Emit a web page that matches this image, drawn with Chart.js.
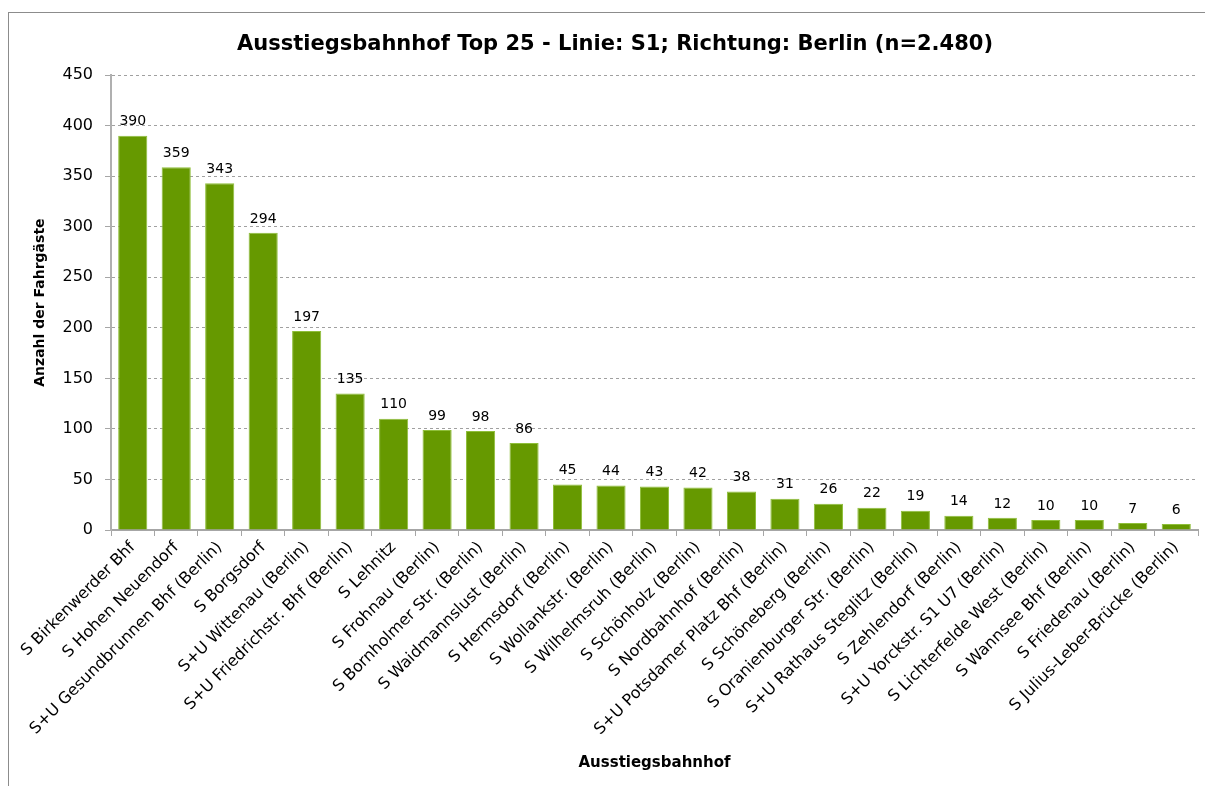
<!DOCTYPE html>
<html>
<head>
<meta charset="utf-8">
<script src="https://cdn.jsdelivr.net/npm/chart.js@4/dist/chart.umd.min.js"></script>
<style>
  html, body { margin: 0; padding: 0; background: #fff; }
  #wrap { position: absolute; left: 0; top: 0; width: 1205px; height: 786px; }
  #frame { position: absolute; left: 8px; top: 12px; width: 1300px; height: 900px;
           border-left: 1px solid #8c8c8c; border-top: 1px solid #8c8c8c; pointer-events: none; }
</style>
</head>
<body>
<div id="wrap"><canvas id="c" width="1205" height="786"></canvas></div>
<div id="frame"></div>
<script>
const FONT = '"DejaVu Sans", sans-serif';

const stations = [
  "S Birkenwerder Bhf", "S Hohen Neuendorf", "S+U Gesundbrunnen Bhf (Berlin)", "S Borgsdorf",
  "S+U Wittenau (Berlin)", "S+U Friedrichstr. Bhf (Berlin)", "S Lehnitz", "S Frohnau (Berlin)",
  "S Bornholmer Str. (Berlin)", "S Waidmannslust (Berlin)", "S Hermsdorf (Berlin)", "S Wollankstr. (Berlin)",
  "S Wilhelmsruh (Berlin)", "S Schönholz (Berlin)", "S Nordbahnhof (Berlin)", "S+U Potsdamer Platz Bhf (Berlin)",
  "S Schöneberg (Berlin)", "S Oranienburger Str. (Berlin)", "S+U Rathaus Steglitz (Berlin)", "S Zehlendorf (Berlin)",
  "S+U Yorckstr. S1 U7 (Berlin)", "S Lichterfelde West (Berlin)", "S Wannsee Bhf (Berlin)", "S Friedenau (Berlin)",
  "S Julius-Leber-Brücke (Berlin)",
];
const passengers = [390, 359, 343, 294, 197, 135, 110, 99, 98, 86, 45, 44, 43, 42, 38, 31, 26, 22, 19, 14, 12, 10, 10, 7, 6];
const yMax = 450, yStep = 50;

// value labels above the bars (no datalabels plugin offline)
const valueLabels = {
  id: "valueLabels",
  afterDatasetsDraw(chart) {
    const ctx = chart.ctx, meta = chart.getDatasetMeta(0);
    ctx.save();
    ctx.font = "14px " + FONT;
    ctx.fillStyle = "#000";
    ctx.textAlign = "center";
    ctx.textBaseline = "bottom";
    meta.data.forEach((bar, i) => ctx.fillText(String(passengers[i]), bar.x, bar.y - 7));
    ctx.restore();
  },
};

new Chart(document.getElementById("c"), {
  type: "bar",
  data: {
    labels: stations,
    datasets: [{
      data: passengers,
      backgroundColor: "#669900",
      borderColor: "#8fbf3a",
      borderWidth: 1,
      barPercentage: 0.67,
      categoryPercentage: 1.0,
    }],
  },
  options: {
    responsive: false, animation: false,
    layout: { padding: { left: 32, right: 7, top: 32, bottom: 14 } },
    plugins: {
      legend: { display: false },
      tooltip: { enabled: false },
      title: {
        display: true,
        text: "Ausstiegsbahnhof Top 25 - Linie: S1; Richtung: Berlin (n=2.480)",
        color: "#000", font: { family: FONT, size: 21, weight: "bold" },
        padding: { top: 0, bottom: 18 },
      },
    },
    scales: {
      x: {
        grid: { drawOnChartArea: false, offset: true, tickLength: 6, color: "#a6a6a6" },
        border: { color: "#a6a6a6", width: 2 },
        ticks: { color: "#000", font: { family: FONT, size: 16 }, minRotation: 45, maxRotation: 45, autoSkip: false, padding: 2 },
        title: { display: true, text: "Ausstiegsbahnhof", color: "#000", font: { family: FONT, size: 15, weight: "bold" }, padding: { top: 0, bottom: 0 } },
        afterFit: s => { s.paddingLeft = 0; s.paddingRight = 0; s.height = 242; },
      },
      y: {
        min: 0, max: yMax,
        grid: { color: "#a0a0a0", tickLength: 6, tickColor: "#a6a6a6", tickBorderDash: [] },
        border: { color: "#b0b0b0", width: 2, dash: [3, 3] },
        ticks: { stepSize: yStep, color: "#000", font: { family: FONT, size: 16 }, padding: 12 },
        title: { display: true, text: "Anzahl der Fahrgäste", color: "#000", font: { family: FONT, size: 14, weight: "bold" }, padding: { top: 0, bottom: 5 } },
        afterFit: s => { s.width = 79; },
      },
    },
  },
  plugins: [valueLabels],
});
</script>
</body>
</html>
